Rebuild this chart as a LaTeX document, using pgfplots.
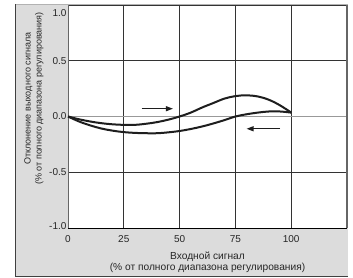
\documentclass[border=0pt]{standalone}
\usepackage{pgfplots}
\pgfplotsset{compat=1.18}
\usepackage{fontspec}
\setmainfont{Liberation Sans}
\usetikzlibrary{arrows.meta}
\definecolor{bggray}{HTML}{DCDCDC}
\definecolor{curve}{HTML}{1E1E1E}
\begin{document}
\begin{tikzpicture}
\useasboundingbox (0pt,0pt) rectangle (353pt,277pt);
\fill[bggray] (15pt,1pt) rectangle (348pt,273pt);
\draw[gray!60,line width=0.8pt] (15pt,273pt) -- (348pt,273pt);
\draw[black!75,line width=1pt] (15pt,1pt) -- (15pt,273pt);
\draw[black!75,line width=1pt] (15pt,1pt) -- (348pt,1pt);
\begin{axis}[
  at={(68pt,49pt)}, anchor=south west,
  scale only axis, width=279pt, height=223pt,
  xmin=0, xmax=125, ymin=-1, ymax=1,
  axis background/.style={fill=white},
  xtick={0,25,50,75,100},
  ytick={-1,-0.5,0,0.5,1},
  yticklabels={\raisebox{-1.5pt}[0pt][0pt]{-1.0},-0.5,0.0,0.5,\raisebox{-11.5pt}[0pt][0pt]{1.0}},
  major tick length=0pt,
  xmajorgrids, ymajorgrids,
  grid style={black!80,line width=0.8pt},
  axis line style={draw=none},
  /pgf/number format/assume math mode=true,
  tick label style={font=\fontsize{10}{11}\selectfont, text=black!85},
  xticklabel style={yshift=-4pt},
  yticklabel style={xshift=2pt},
  xlabel={Входной сигнал\\(\% от полного диапазона регулирования)},
  xlabel style={align=center,font=\fontsize{10.2}{11}\selectfont,yshift=-2pt,text=black!85},
  ylabel={Отклонение выходного сигнала\\(\% от полного диапазона регулирования)},
  ylabel style={align=center,font=\fontsize{9}{11}\selectfont,yshift=-1pt,xshift=18pt,text=black!85},
  clip=false,
]
\draw[gray!80,line width=1.4pt] (axis cs:0,0) -- (axis cs:125,0);
\draw[black!60,line width=1pt] (axis cs:0,-1) -- (axis cs:0,1);
\draw[black,line width=1pt] (axis cs:0,-1) -- (axis cs:125,-1);
\draw[black!60,line width=1.6pt] (axis cs:125,-1) -- (axis cs:125,1);
\addplot[curve, line width=2pt, smooth, tension=0.6] coordinates {
(0,0) (5,-0.025) (10,-0.045) (15,-0.06) (20,-0.07) (25,-0.075) (30,-0.075)
(35,-0.065) (40,-0.05) (45,-0.028) (50,0) (55,0.035) (60,0.08) (65,0.12)
(70,0.16) (75,0.183) (80,0.19) (85,0.18) (90,0.15) (95,0.1) (100,0.035)};
\addplot[curve, line width=2pt, smooth, tension=0.6] coordinates {
(0,0) (5,-0.045) (10,-0.08) (15,-0.108) (20,-0.127) (25,-0.14) (30,-0.147)
(35,-0.15) (40,-0.15) (45,-0.142) (50,-0.13) (55,-0.112) (60,-0.09) (65,-0.063)
(70,-0.033) (75,0) (80,0.02) (85,0.035) (90,0.045) (95,0.045) (100,0.035)};
\draw[curve, line width=1.2pt, -{Triangle[length=7pt,width=5pt]}] (axis cs:33,0.07) -- (axis cs:47,0.07);
\draw[curve, line width=1.2pt, -{Triangle[length=7pt,width=5pt]}] (axis cs:95,-0.11) -- (axis cs:80,-0.11);
\end{axis}
\end{tikzpicture}
\end{document}
